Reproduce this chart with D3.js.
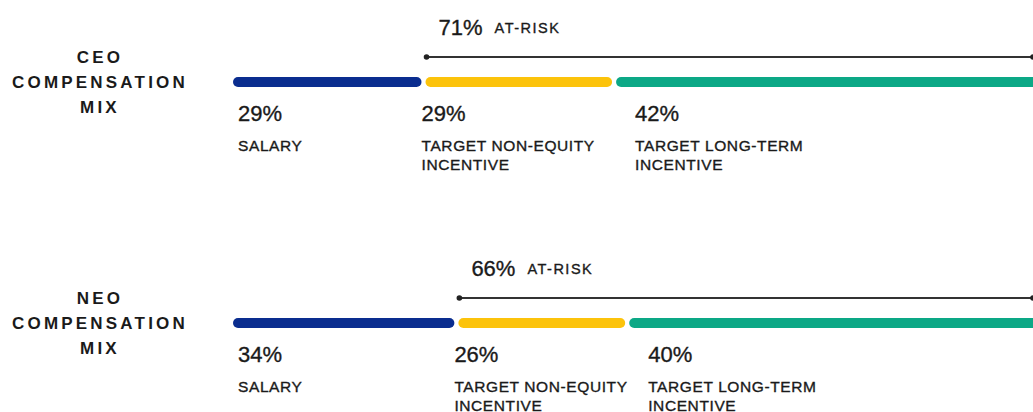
<!DOCTYPE html>
<html>
<head>
<meta charset="utf-8">
<script src="https://cdn.jsdelivr.net/npm/d3@7"></script>
<style>
    body { margin: 0; background: #fff; }
    svg { display: block; font-family: "Liberation Sans", Arial, sans-serif; }
    svg text { fill: #1a1a1a; stroke: #1a1a1a; stroke-width: 0.35px; }
</style>
</head>
<body>
<div id="chart"></div>
<script>

// data
let rowNames = ['CEO', 'NEO'];
let segmentNames = [['SALARY'], ['TARGET NON-EQUITY', 'INCENTIVE'], ['TARGET LONG-TERM', 'INCENTIVE']];
let ceoMix = [29, 29, 42];
let neoMix = [34, 26, 40];
let atRisk = [71, 66];

let colors = ['#0a2d8f', '#fcc30b', '#0ca886'];

let width = 1033, height = 412;

let svg = d3.select('#chart').append('svg')
    .attr('width', width)
    .attr('height', height);

// one scale for both rows, percent -> px
let x = d3.scaleLinear()
    .domain([0, 100])
    .range([233, 890]);

let rowY = [82, 323];          // bar centre of each row
let barH = 10;
let gap = 4;
let labelDx = [5, -2, 21];     // nudge the labels under each segment

[ceoMix, neoMix].forEach((mix, r) => {
    let g = svg.append('g').attr('transform', `translate(0,${rowY[r]})`);

    // stack the segments
    let start = 0;
    let segs = mix.map((v, i) => {
        let s = {value: v, start: start, end: start + v, i: i};
        start += v;
        return s;
    });

    // left title
    let title = g.append('text')
        .attr('x', 100)
        .attr('text-anchor', 'middle')
        .style('font-size', '17px')
        .style('font-weight', 'bold')
        .style('letter-spacing', '3.2px')
        .style('stroke-width', '0px');
    [rowNames[r], 'COMPENSATION', 'MIX'].forEach((t, k) => {
        title.append('tspan')
            .attr('x', 100)
            .attr('y', -19 + k * 25)
            .text(t);
    });

    // bars, the last one runs off the right edge like the original
    g.selectAll('rect.seg')
        .data(segs)
        .enter().append('rect')
        .attr('class', 'seg')
        .attr('x', d => x(d.start) + (d.i === 0 ? 0 : gap / 2))
        .attr('width', d => {
            let x0 = x(d.start) + (d.i === 0 ? 0 : gap / 2);
            let x1 = d.i === segs.length - 1 ? width + 20 : x(d.end) - gap / 2;
            return x1 - x0;
        })
        .attr('y', -barH / 2)
        .attr('height', barH)
        .attr('rx', barH / 2)
        .attr('fill', d => colors[d.i]);

    // percent labels
    g.selectAll('text.pct')
        .data(segs)
        .enter().append('text')
        .attr('class', 'pct')
        .attr('x', d => x(d.start) + labelDx[d.i])
        .attr('y', 39)
        .style('font-size', '22px')
        .text(d => d.value + '%');

    // segment names
    segs.forEach(d => {
        let t = g.append('text')
            .attr('x', x(d.start) + labelDx[d.i])
            .style('font-size', '15.5px')
            .style('letter-spacing', '0.6px');
        segmentNames[d.i].forEach((line, k) => {
            t.append('tspan')
                .attr('x', x(d.start) + labelDx[d.i])
                .attr('y', 69 + k * 19)
                .text(line);
        });
    });

    // at-risk bracket
    let ax = x(segs[1].start) + 3;
    g.append('line')
        .attr('x1', ax)
        .attr('x2', width)
        .attr('y1', -25)
        .attr('y2', -25)
        .attr('stroke', '#333')
        .attr('stroke-width', 2);
    g.append('circle')
        .attr('cx', ax)
        .attr('cy', -25)
        .attr('r', 2.8)
        .attr('fill', '#222');
    g.append('circle')
        .attr('cx', width)
        .attr('cy', -25)
        .attr('r', 2.8)
        .attr('fill', '#222');

    let lab = g.append('text')
        .attr('x', ax + 12)
        .attr('y', -47);
    lab.append('tspan')
        .style('font-size', '22px')
        .text(atRisk[r] + '%');
    lab.append('tspan')
        .attr('dx', 12)
        .attr('dy', -2)
        .style('font-size', '14.5px')
        .style('letter-spacing', '1.5px')
        .text('AT-RISK');
});

</script>
</body>
</html>
